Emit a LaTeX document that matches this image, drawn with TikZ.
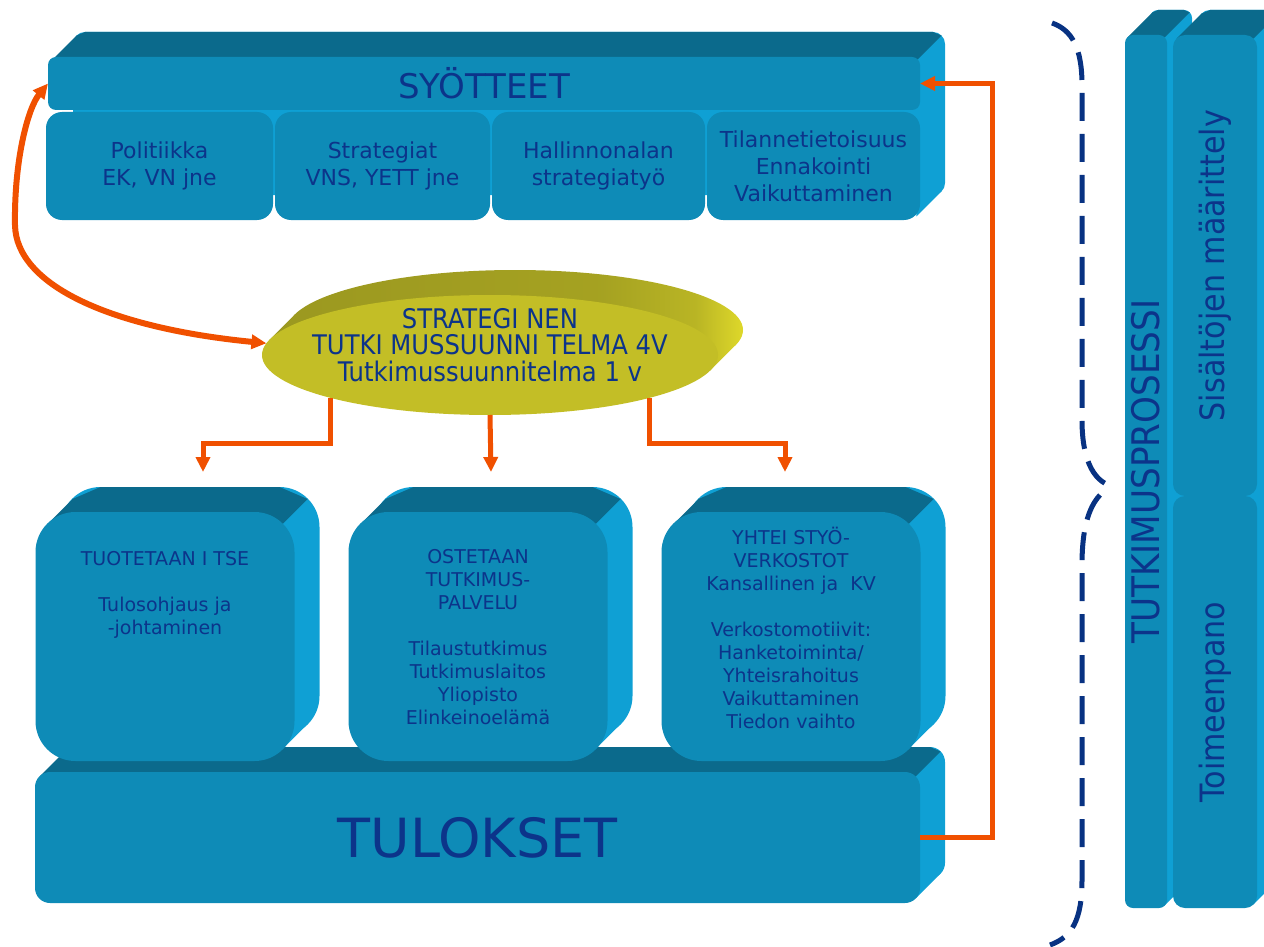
\documentclass[tikz,border=0pt]{standalone}
\usepackage{fontspec}
\setmainfont{DejaVu Sans}
\newfontfamily\narrowfont{DejaVu Sans Condensed}
\usepackage{graphicx}
\usepackage{tikz}
\usetikzlibrary{calc}
\usetikzlibrary{positioning}
\usetikzlibrary{shapes.geometric}
\usetikzlibrary{arrows.meta}
\usetikzlibrary{backgrounds}
\definecolor{frontblue}{RGB}{14,139,183}
\definecolor{topblue}{RGB}{11,106,140}
\definecolor{sideblue}{RGB}{15,160,212}
\definecolor{textblue}{RGB}{12,52,138}
\definecolor{floworange}{RGB}{240,80,0}
\definecolor{olive}{RGB}{195,190,38}
\definecolor{olivetop}{RGB}{155,152,32}
\definecolor{oliveside}{RGB}{222,216,42}
\definecolor{bracenavy}{RGB}{8,50,130}
\pgfdeclarehorizontalshading{rim}{100bp}{color(0bp)=(olivetop); color(25bp)=(olivetop); color(60bp)=(olivetop!85!oliveside); color(70bp)=(olivetop!55!oliveside); color(75bp)=(oliveside); color(100bp)=(oliveside)}

\tikzset{
  face/.style={fill=frontblue, text=textblue, align=center, inner sep=0pt, outer sep=0pt},
  subtext/.style={font=\fontsize{22}{27}\selectfont},
  boxtext/.style={text=textblue, align=center, inner sep=0pt, anchor=north, font=\fontsize{19}{23}\selectfont},
  flow/.style={draw=floworange, line width=5pt, >={Triangle[length=15pt,width=14pt]}, ->},
}

% extruded back of a block: #1 north west, #2 south east, #3 corner radius
\newcommand{\slab}[3]{%
  \begin{scope}[on background layer]
    \coordinate (nw) at (#1);
    \coordinate (se) at (#2);
    \coordinate (ne) at (nw -| se);
    \fill[sideblue,rounded corners=#3] ($(nw)+(25,-25)$) rectangle ($(se)+(25,-25)$);
    \fill[sideblue] ($(ne)+(-.3*#3,.3*#3)$) -- ++(25,-25) -- ($(se)+(25,-25)+(-.3*#3,-.3*#3)$) -- ($(se)+(-.3*#3,-.3*#3)$) -- cycle;
    \fill[topblue] ($(nw)+(.3*#3,.3*#3)$) -- ++(25,-25) -- ($(nw)+(25,-25)+(#3,0)$) -- ($(ne)+(25,-25)+(-#3,0)$) -- ($(ne)+(25,-25)+(-.3*#3,.3*#3)$) -- ($(ne)+(-.3*#3,.3*#3)$) -- cycle;
  \end{scope}}

\begin{document}
\begin{tikzpicture}[x=1pt,y=-1pt]
  \useasboundingbox (0,0) rectangle (1264,947);

  % inputs
  \node[face, rounded corners=8, minimum width=872, minimum height=53, font=\fontsize{34}{34}\selectfont] (inputs) at (484,83.5) {SYÖTTEET};
  \node[face, subtext, rounded corners=16, minimum width=227, minimum height=108] (sub1) at (159.5,166) {Politiikka\\EK, VN jne};
  \node[face, subtext, rounded corners=16, minimum width=215, minimum height=108] (sub2) at (382.5,166) {Strategiat\\VNS, YETT jne};
  \node[face, subtext, rounded corners=16, minimum width=213, minimum height=108] (sub3) at (598.5,166) {Hallinnonalan\\strategiatyö};
  \node[face, subtext, rounded corners=16, minimum width=213, minimum height=108] (sub4) at (813.5,166) {Tilannetietoisuus\\Ennakointi\\Vaikuttaminen};
  \slab{inputs.north west}{sub4.south east}{12}

  % plan
  \node[ellipse, fill=olive, inner sep=0pt, outer sep=0pt, minimum width=456, minimum height=120] (plan) at (490,355) {};
  \begin{scope}[on background layer]
    \shade[shading=rim]
      ($(plan.center)+(25,-25)$) ellipse [x radius=228, y radius=60]
      ($(plan.center)+(-220.5,-15.2)$) -- ++(25,-25) -- ($(plan.center)+(245.5,-9.8)$) -- ($(plan.center)+(220.5,15.2)$) -- cycle;
  \end{scope}
  \node[boxtext, anchor=center, font=\narrowfont\fontsize{27}{26.5}\selectfont] (plantext) at (490,345) {STRATEGI NEN\\TUTKI MUSSUUNNI TELMA 4V\\Tutkimussuunnitelma 1 v};

  % results
  \node[face, rounded corners=15, minimum width=885, minimum height=131, font=\fontsize{54}{54}\selectfont] (results) at (477.5,837.5) {TULOKSET};
  \slab{results.north west}{results.south east}{15}

  % ways of doing
  \node[face, rounded corners=40, minimum width=259, minimum height=249] (own) at (165,636.5) {};
  \node[face, rounded corners=40, minimum width=259, minimum height=249] (buy) at (478,636.5) {};
  \node[face, rounded corners=40, minimum width=259, minimum height=249] (net) at (791,636.5) {};
  \slab{own.north west}{own.south east}{40}
  \slab{buy.north west}{buy.south east}{40}
  \slab{net.north west}{net.south east}{40}
  \node[boxtext, below=39pt of own.north] (owntext) {TUOTETAAN I TSE\\[23pt]Tulosohjaus ja\\-johtaminen};
  \node[boxtext, below=37pt of buy.north] (buytext) {OSTETAAN\\TUTKIMUS-\\PALVELU\\[23pt]Tilaustutkimus\\Tutkimuslaitos\\Yliopisto\\Elinkeinoelämä};
  \node[boxtext, below=15pt of net.north] (nettext) {YHTEI STYÖ-\\VERKOSTOT\\Kansallinen ja\ \ KV\\[23pt]Verkostomotiivit:\\Hanketoiminta/\\Yhteisrahoitus\\Vaikuttaminen\\Tiedon vaihto};

  % process columns
  \node[face, rounded corners=8, minimum width=42, minimum height=873] (process) at (1146,471.5) {\rotatebox{90}{\narrowfont\fontsize{38}{38}\selectfont TUTKIMUSPROSESSI}};
  \node[face, rounded corners=12, minimum width=84, minimum height=461] (define) at (1215,265.5) {\rotatebox{90}{\narrowfont\fontsize{33.5}{33.5}\selectfont Sisältöjen määrittely}};
  \node[face, rounded corners=12, minimum width=84, minimum height=412] (execute) at (1215,702) {\rotatebox{90}{\narrowfont\fontsize{33.5}{33.5}\selectfont Toimeenpano}};
  \slab{process.north west}{process.south east}{8}
  \slab{define.north west}{execute.south east}{12}

  % brace
  \draw[bracenavy, line width=5pt, dash pattern=on 28pt off 13pt]
    (1052,23) .. controls (1072,30) and (1082,48) .. (1082,85) -- (1082,420)
    .. controls (1082,462) and (1095,485) .. (1117,487);
  \draw[bracenavy, line width=5pt, dash pattern=on 28pt off 13pt]
    (1100,495) .. controls (1088,508) and (1082,530) .. (1082,565) -- (1082,880)
    .. controls (1082,920) and (1072,937) .. (1050,945);

  % arrows
  \coordinate (in1) at (203,472);
  \coordinate (in2) at (491,472);
  \coordinate (in3) at (785,472);
  \draw[flow] (plan.195) |- ($(in1)+(0,-29)$) -- (in1);
  \draw[flow] (plan.south) -- (in2);
  \draw[flow] (plan.345) |- ($(in3)+(0,-29)$) -- (in3);
  \draw[flow, <->, line width=6pt] (inputs.west) .. controls (28,108) and (14,160) .. (15,225)
    .. controls (16,285) and (110,328) .. (plan.177);
  \draw[flow] (results.east) -| ($(inputs.east)+(72,0)$) -- (inputs.east);
\end{tikzpicture}
\end{document}
